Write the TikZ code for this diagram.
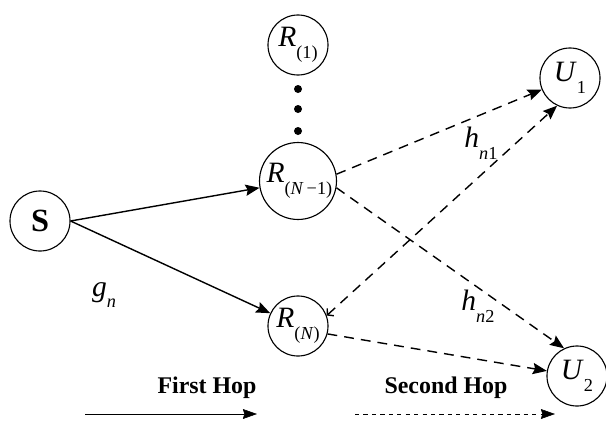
\documentclass[tikz,border=0pt]{standalone}
\usepackage{fontspec}
\setmainfont{Liberation Serif}
\usetikzlibrary{positioning,arrows.meta}

% italic symbol with a lowered subscript
\newcommand{\sym}[2]{\textit{#1}\raisebox{-0.4em}{\fontsize{13}{13}\selectfont #2}}
\newcommand{\nodefont}{\fontsize{21}{24}\selectfont}

\begin{document}
\begin{tikzpicture}[x=0.025cm,y=-0.025cm]
            \useasboundingbox (0,0) rectangle (606,422);
            \begin{scope}[every node/.style={circle,thick,draw,minimum size=1.5cm,inner sep=0pt}]
                \node (S) at (40,221) {\fontsize{23}{24}\selectfont\bfseries S};
                \node (R1) at (298,45) {\nodefont\sym{R}{(1)}};
                \node (RN1) at (298,181) {\nodefont\hspace*{2pt}\sym{R}{(\textit{N}\,−1)}};
                \node (RN) at (298,326) {\nodefont\sym{R}{(\textit{N})}};
                \node (U1) at (570,78) {\nodefont\sym{U}{1}};
                \node (U2) at (577,376) {\nodefont\sym{U}{2}};
            \end{scope}

            % dots between R(1) and R(N-1)
            \foreach \y in {89,109,131}
                \fill (298,\y) circle (4);

            \begin{scope}[>={Stealth[black,length=10pt,width=8pt,inset=1.5pt]},
                          every edge/.style={draw=black,line width=1pt}]
                \path [->] (S.east) edge node {} (RN1);
                \path [->] (S.east) edge node {} (RN);
                \path [->,dash pattern=on 7pt off 5pt] (RN1.10) edge node {} (U1);
                \path [->,dash pattern=on 7pt off 5pt] (RN1.-10) edge node {} (U2.115);
                \path [{Straight Barb[length=3pt,width=7pt]}->,dash pattern=on 7pt off 5pt] (RN.20) edge node {} (U1.-115);
                \path [->,dash pattern=on 7pt off 5pt] (RN.-15) edge node {} (U2);
            \end{scope}

            \node (gn) at (104,295) {\nodefont\sym{g}{\textit{n}}};
            \node (hn1) at (481,143) {\nodefont\sym{h}{\textit{n}1}};
            \node (hn2) at (478,306) {\nodefont\sym{h}{\textit{n}2}};

            % legend
            \node (first) at (207,388) {\fontsize{17}{20}\selectfont\bfseries First Hop};
            \node (second) at (446,388) {\fontsize{17}{20}\selectfont\bfseries Second Hop};
            \coordinate (fa) at (85,414);
            \coordinate (fb) at (257,414);
            \coordinate (sa) at (355,414);
            \coordinate (sb) at (555,414);
            \draw [-{Stealth[length=10pt,width=7pt,inset=1pt]}] (fa) -- (fb);
            \draw [-{Stealth[length=10pt,width=7pt,inset=1pt]},dashed] (sa) -- (sb);
        \end{tikzpicture}
\end{document}
